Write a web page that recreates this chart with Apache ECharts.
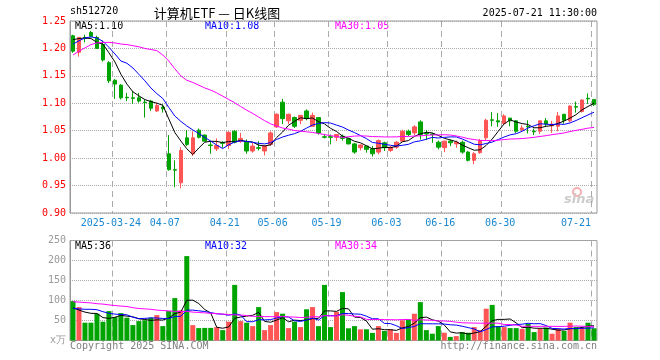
<!DOCTYPE html>
<html><head><meta charset="utf-8">
<script src="https://cdn.jsdelivr.net/npm/echarts@6/dist/echarts.min.js"></script>
<style>html,body{margin:0;padding:0;background:#fff}#c{width:660px;height:360px}</style>
</head><body><div id="c"></div>
<script>
const categories = [
'2025-03-13','2025-03-14','2025-03-17','2025-03-18','2025-03-19','2025-03-20','2025-03-21','2025-03-24','2025-03-25','2025-03-26','2025-03-27','2025-03-28','2025-03-31',
'2025-04-01','2025-04-02','2025-04-03','2025-04-07','2025-04-08','2025-04-09','2025-04-10','2025-04-11','2025-04-14','2025-04-15','2025-04-16','2025-04-17','2025-04-18','2025-04-21','2025-04-22','2025-04-23','2025-04-24','2025-04-25','2025-04-28','2025-04-29','2025-04-30',
'2025-05-06','2025-05-07','2025-05-08','2025-05-09','2025-05-12','2025-05-13','2025-05-14','2025-05-15','2025-05-16','2025-05-19','2025-05-20','2025-05-21','2025-05-22','2025-05-23','2025-05-26','2025-05-27','2025-05-28','2025-05-29','2025-05-30',
'2025-06-03','2025-06-04','2025-06-05','2025-06-06','2025-06-09','2025-06-10','2025-06-11','2025-06-12','2025-06-13','2025-06-16','2025-06-17','2025-06-18','2025-06-19','2025-06-20','2025-06-23','2025-06-24','2025-06-25','2025-06-26','2025-06-27','2025-06-30',
'2025-07-01','2025-07-02','2025-07-03','2025-07-04','2025-07-07','2025-07-08','2025-07-09','2025-07-10','2025-07-11','2025-07-14','2025-07-15','2025-07-16','2025-07-17','2025-07-18','2025-07-21'];

const opens = [1.223,1.193,1.220,1.229,1.220,1.207,1.174,1.142,1.133,1.111,1.110,1.110,1.102,1.104,1.086,1.093,1.008,0.979,0.955,1.037,
1.008,1.051,1.042,1.024,1.017,1.028,1.023,1.049,1.031,1.030,1.013,1.019,1.013,1.025,1.057,1.102,1.068,1.074,1.069,1.086,
1.058,1.074,1.039,1.039,1.038,1.040,1.036,1.026,1.019,1.022,1.017,1.011,1.028,1.014,1.020,1.031,1.049,1.046,1.066,1.045,
1.044,1.029,1.019,1.031,1.026,1.029,1.011,0.996,1.010,1.037,1.070,1.068,1.063,1.073,1.068,1.052,1.058,1.049,1.049,1.068,
1.059,1.058,1.080,1.068,1.094,1.085,1.109,1.107];
const closes = [1.195,1.220,1.218,1.222,1.200,1.179,1.141,1.135,1.110,1.110,1.109,1.104,1.101,1.091,1.096,1.090,0.979,0.978,1.014,1.025,
1.037,1.038,1.031,1.023,1.023,1.027,1.047,1.029,1.036,1.013,1.022,1.018,1.022,1.046,1.080,1.072,1.080,1.058,1.078,1.072,
1.078,1.046,1.038,1.038,1.043,1.036,1.026,1.011,1.024,1.016,1.008,1.032,1.019,1.020,1.029,1.049,1.043,1.057,1.043,1.044,
1.043,1.020,1.031,1.028,1.029,1.011,0.996,1.008,1.032,1.069,1.069,1.066,1.077,1.068,1.049,1.055,1.057,1.048,1.068,1.062,
1.062,1.077,1.069,1.095,1.093,1.106,1.108,1.098];
const lows = [1.192,1.185,1.211,1.221,1.199,1.176,1.137,1.108,1.107,1.104,1.099,1.101,1.074,1.086,1.084,1.083,0.977,0.947,0.945,1.022,
1.004,1.036,1.031,1.008,1.013,1.019,1.017,1.027,1.028,1.008,1.010,1.014,1.005,1.022,1.055,1.062,1.062,1.055,1.062,1.069,
1.058,1.043,1.036,1.025,1.031,1.032,1.025,1.008,1.014,1.010,1.003,1.007,1.013,1.011,1.017,1.030,1.040,1.042,1.034,1.034,
1.028,1.016,1.011,1.022,1.019,1.008,0.994,0.989,1.008,1.032,1.058,1.057,1.062,1.058,1.046,1.049,1.045,1.042,1.044,1.057,
1.046,1.049,1.063,1.065,1.083,1.083,1.099,1.095];
const highs = [1.225,1.221,1.225,1.232,1.223,1.214,1.177,1.144,1.135,1.119,1.122,1.119,1.107,1.106,1.101,1.098,1.042,0.996,1.020,1.051,
1.049,1.054,1.043,1.031,1.036,1.031,1.049,1.051,1.046,1.034,1.028,1.031,1.024,1.049,1.082,1.108,1.081,1.076,1.078,1.089,
1.083,1.074,1.043,1.043,1.044,1.043,1.037,1.028,1.025,1.023,1.022,1.034,1.030,1.022,1.031,1.052,1.052,1.060,1.069,1.051,
1.046,1.032,1.032,1.034,1.032,1.032,1.013,1.011,1.035,1.072,1.084,1.082,1.080,1.073,1.069,1.060,1.069,1.054,1.069,1.073,
1.068,1.084,1.080,1.096,1.103,1.107,1.118,1.107];
const volumes = [98.5,83.5,44.5,44.5,67,47,73.5,58.5,68.5,57,38.5,48.5,50.5,57,63.5,36,73.5,106,75.5,211,
38.5,31,31.5,31.5,33.5,26,47,139,48.5,44.5,36,83.5,26,38.5,71,67,31,47,33.5,78,
83.5,36,139,33.5,72,121,30.5,36,28,28,19,36,24,28,19,50.5,53,67,96,26,
17,36,19.5,9,11,21,19.5,33.5,26,79.5,89,36,33.5,31,31,29,42,21,29.5,32,
17,29.5,24,44.5,33.5,32,44.5,30.5];

// moving-average values before the first visible day
const ma5Head = [1.216,1.218,1.219,1.218];
const ma10Head = [1.208,1.214,1.219,1.221,1.219,1.213,1.202,1.190,1.177];
const ma30Head = [1.188,1.195,1.201,1.207,1.210,1.211,1.211,1.210,1.208,1.207,1.205,1.203,1.200,1.198,1.196,1.188,1.177,1.163,1.150,1.142,1.138,1.133,1.128,1.124,1.119,1.113,1.107,1.101,1.094];
const vma5Head = [82,76,71,68];
const vma10Head = [80,79,78,78,77,72,68,66,65];
const vma30Head = [97,96,95,94,92,91,89,87.5,86,85,82,80,79,78,76,75,74,73,72,73,71,70,69,68,67,66,65,64,63.5];

const tickDates = ['2025-03-24','2025-04-07','2025-04-21','2025-05-06','2025-05-19','2025-06-03','2025-06-16','2025-06-30','2025-07-21'];
const priceRange = [0.90, 1.25];
const volRange = [0, 250];
const priceLegend = ['MA5:1.10','MA10:1.08','MA30:1.05'];
const volLegend = ['MA5:36','MA10:32','MA30:34'];

function ma(vals, n, head){
  return vals.map((v,i)=>{
    if(i < n-1) return head[i];
    let s=0; for(let k=i-n+1;k<=i;k++) s+=vals[k];
    return +(s/n).toFixed(4);
  });
}

const RED='#ff5555', GREEN='#00a400';
const MONO='DejaVu Sans Mono';
const tickSet = new Set(tickDates);
const tickIdx = tickDates.map(d=>categories.indexOf(d));
const lastIdx = categories.length-1;
const showTick = (i,v)=>tickSet.has(v);

// dashed vertical guide (short solid segments) at the left edge of each tick-date band
function guideRenderer(params, api){
  try {
    const idx = api.value(0);
    const top = api.coord([idx, api.value(2)]);
    const bot = api.coord([idx, api.value(1)]);
    const nxt = api.coord([idx + 1, api.value(1)]);
    const x = Math.round(top[0] - (nxt[0]-top[0])/2) + 0.5;
    const children = [];
    for (let y = top[1]; y < bot[1]; y += 10) {
      children.push({type:'line', shape:{x1:x, y1:y, x2:x, y2:Math.min(y+6, bot[1])}, style:{stroke:'#aaaaaa', lineWidth:1}});
    }
    return {type:'group', children:children};
  } catch(e) { return null; }
}

const chart = echarts.init(document.getElementById('c'), null, {renderer:'canvas'});

const option = {
  animation:false,
  backgroundColor:'#fff',
  grid:[
    {left:70, top:21, width:527, height:192, show:true, borderColor:'#999', borderWidth:1},
    {left:70, top:240.5, width:527, height:100, show:true, borderColor:'#999', borderWidth:1}
  ],
  xAxis:[
    {type:'category', gridIndex:0, data:categories, boundaryGap:true,
     axisLine:{show:false}, axisTick:{show:false},
     axisLabel:{show:true, interval:showTick, margin:5,
       formatter:(v,i)=>{
         const t = (v===tickDates[0]) ? v : v.slice(5);
         return (v===categories[lastIdx]) ? '{e|'+t+'}' : '{n|'+t+'}';
       },
       rich:{
         n:{color:'#1a88d0', fontFamily:MONO, fontSize:10, padding:[0,8,0,0]},
         e:{color:'#1a88d0', fontFamily:MONO, fontSize:10, padding:[0,36,0,0]}
       }},
     splitLine:{show:false}},
    {type:'category', gridIndex:1, data:categories, boundaryGap:true,
     axisLine:{show:false}, axisTick:{show:false}, axisLabel:{show:false},
     splitLine:{show:false}}
  ],
  yAxis:[
    {type:'value', gridIndex:0, min:priceRange[0], max:priceRange[1], interval:0.05,
     axisLine:{show:true, lineStyle:{color:'#999'}}, axisTick:{show:false},
     axisLabel:{color:'#ff0000', fontFamily:MONO, fontSize:10, margin:4, formatter:v=>v.toFixed(2)},
     splitLine:{show:true, lineStyle:{color:'#aaa', type:'dotted'}}},
    {type:'value', gridIndex:1, min:volRange[0], max:volRange[1], interval:50,
     axisLine:{show:true, lineStyle:{color:'#999'}}, axisTick:{show:false},
     axisLabel:{color:'#999', fontFamily:MONO, fontSize:10, margin:4, formatter:v=>v===0?'x万':String(v)},
     splitLine:{show:true, lineStyle:{color:'#aaa', type:'dotted'}}}
  ],
  series:[
    {type:'custom', xAxisIndex:0, yAxisIndex:0, renderItem:guideRenderer, data:tickIdx.map(i=>[i,priceRange[0],priceRange[1]]), encode:{x:0,y:[1,2]}},
    {type:'custom', xAxisIndex:1, yAxisIndex:1, renderItem:guideRenderer, data:tickIdx.map(i=>[i,volRange[0],volRange[1]]), encode:{x:0,y:[1,2]}},
    {type:'candlestick', xAxisIndex:0, yAxisIndex:0, barWidth:4, z:3,
     data:categories.map((_,i)=>[opens[i],closes[i],lows[i],highs[i]]),
     itemStyle:{color:RED, color0:GREEN, borderColor:RED, borderColor0:GREEN, borderWidth:1}},
    {type:'line', xAxisIndex:0, yAxisIndex:0, data:ma(closes,5,ma5Head), symbol:'none', lineStyle:{color:'#000', width:1}, silent:true, z:4},
    {type:'line', xAxisIndex:0, yAxisIndex:0, data:ma(closes,10,ma10Head), symbol:'none', lineStyle:{color:'#0000ff', width:1}, silent:true, z:4},
    {type:'line', xAxisIndex:0, yAxisIndex:0, data:ma(closes,30,ma30Head), symbol:'none', lineStyle:{color:'#ff00ff', width:1}, silent:true, z:4},
    {type:'bar', xAxisIndex:1, yAxisIndex:1, barWidth:5, z:3,
     data:volumes.map((v,i)=>({value:v, itemStyle:{color: closes[i]>opens[i]?RED:GREEN}}))},
    {type:'line', xAxisIndex:1, yAxisIndex:1, data:ma(volumes,5,vma5Head), symbol:'none', lineStyle:{color:'#000', width:1}, silent:true, z:4},
    {type:'line', xAxisIndex:1, yAxisIndex:1, data:ma(volumes,10,vma10Head), symbol:'none', lineStyle:{color:'#0000ff', width:1}, silent:true, z:4},
    {type:'line', xAxisIndex:1, yAxisIndex:1, data:ma(volumes,30,vma30Head), symbol:'none', lineStyle:{color:'#ff00ff', width:1}, silent:true, z:4}
  ],
  graphic:[
    {type:'text', left:70, top:6, style:{text:'sh512720', fill:'#000', font:'10px "DejaVu Sans Mono"'}},
    {type:'text', x:217, y:13, style:{text:'计算机ETF — 日K线图', fill:'#000', font:'13px "Noto Sans CJK SC"', textAlign:'center', textVerticalAlign:'middle'}},
    {type:'text', x:597, y:13, style:{text:'2025-07-21 11:30:00', fill:'#000', font:'10px "DejaVu Sans Mono"', textAlign:'right', textVerticalAlign:'middle'}},
    {type:'text', x:75, y:26, style:{text:priceLegend[0], fill:'#000', font:'10px "DejaVu Sans Mono"', textVerticalAlign:'middle'}},
    {type:'text', x:205, y:26, style:{text:priceLegend[1], fill:'#0000ff', font:'10px "DejaVu Sans Mono"', textVerticalAlign:'middle'}},
    {type:'text', x:335, y:26, style:{text:priceLegend[2], fill:'#ff00ff', font:'10px "DejaVu Sans Mono"', textVerticalAlign:'middle'}},
    {type:'text', x:75, y:246, style:{text:volLegend[0], fill:'#000', font:'10px "DejaVu Sans Mono"', textVerticalAlign:'middle'}},
    {type:'text', x:205, y:246, style:{text:volLegend[1], fill:'#0000ff', font:'10px "DejaVu Sans Mono"', textVerticalAlign:'middle'}},
    {type:'text', x:335, y:246, style:{text:volLegend[2], fill:'#ff00ff', font:'10px "DejaVu Sans Mono"', textVerticalAlign:'middle'}},
    {type:'text', x:70, y:346, style:{text:'Copyright 2025 SINA.COM', fill:'#808080', font:'10px "DejaVu Sans Mono"', textVerticalAlign:'middle'}},
    {type:'text', x:597, y:346, style:{text:'http://finance.sina.com.cn', fill:'#808080', font:'10px "DejaVu Sans Mono"', textAlign:'right', textVerticalAlign:'middle'}},
    {type:'circle', shape:{cx:577, cy:192, r:4}, style:{fill:'none', stroke:'#f4b0b0', lineWidth:2}, z:-1},
    {type:'text', x:564, y:200, z:-1, style:{text:'sina', fill:'#cccccc', font:'italic bold 13px "DejaVu Sans"', textVerticalAlign:'middle'}}
  ]
};
chart.setOption(option);
</script></body></html>
